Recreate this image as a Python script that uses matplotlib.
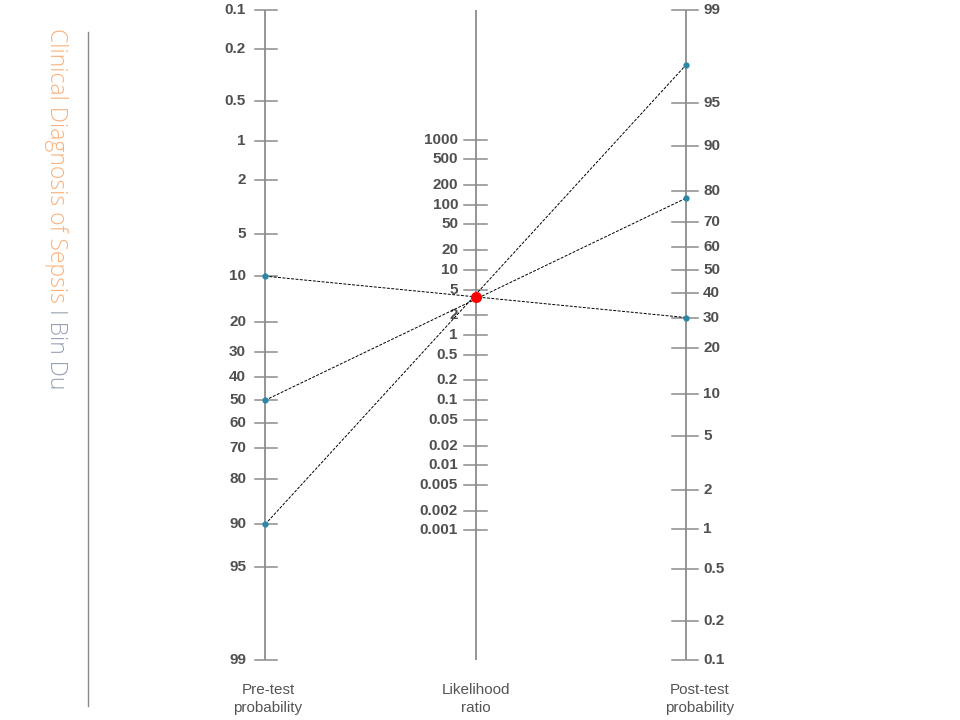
import numpy as np
import matplotlib
matplotlib.use("Agg")
import matplotlib.pyplot as plt

# ---------------- data ----------------
pretest_ticks = [0.1, 0.2, 0.5, 1, 2, 5, 10, 20, 30, 40, 50, 60, 70, 80, 90, 95, 99]
lr_ticks = [1000, 500, 200, 100, 50, 20, 10, 5, 2, 1, 0.5, 0.2, 0.1, 0.05,
            0.02, 0.01, 0.005, 0.002, 0.001]
posttest_ticks = [99, 95, 90, 80, 70, 60, 50, 40, 30, 20, 10, 5, 2, 1, 0.5, 0.2, 0.1]
pretest_points = [10, 50, 90]        # %
posttest_points = [30, 78, 97.4]     # %
likelihood_ratio = 3.8

axis_labels = ["Pre-test\nprobability", "Likelihood\nratio", "Post-test\nprobability"]
side_title = "Clinical Diagnosis of Sepsis"
side_author = " I Bin Du"

# ---------------- nomogram scales ----------------
def logit(pct):
    p = np.asarray(pct, dtype=float) / 100.0
    return np.log(p / (1 - p))

PMIN, PMAX = min(pretest_ticks), max(pretest_ticks)
C = -(logit(PMIN) + logit(PMAX))

def pre_y(p):
    return -logit(p)

def post_y(q):
    return logit(q) + C

def lr_y(lr):
    return np.log(np.asarray(lr, dtype=float)) / 2 + C / 2

W, H = 960, 720
fig = plt.figure(figsize=(W / 100, H / 100), dpi=100)
fig.patch.set_facecolor("white")

# layout axes in pixel coordinates
lay = fig.add_axes([0, 0, 1, 1])
lay.set_xlim(0, W)
lay.set_ylim(H, 0)
lay.axis("off")

# nomogram axes: x in pixels, y in logit units
ax = fig.add_axes([0, 0, 1, 1])
ax.axis("off")
ytop, ybot = float(pre_y(PMIN)), float(pre_y(PMAX))
s = (ytop - ybot) / 650.0
ax.set_ylim(ybot - 60 * s, ytop + 10 * s)
ax.set_xlim(0, W)
ax.patch.set_alpha(0)

X_PRE, X_LR, X_POST = 265, 476, 686
AX_COL = "#8c8c8c"
TXT_COL = "#505050"
FONT = "Liberation Sans"
FS = 11

# axis lines
for x in (X_PRE, X_LR, X_POST):
    ax.plot([x, x], [ybot, ytop], color=AX_COL, lw=1.3, solid_capstyle="butt", zorder=1)

# pre-test ticks
for v in pretest_ticks:
    y = pre_y(v)
    ax.plot([X_PRE - 10, X_PRE + 12], [y, y], color=AX_COL, lw=1.1, zorder=1)
    ax.text(X_PRE - 19, y, f"{v:g}", ha="right", va="center", fontsize=FS,
            color=TXT_COL, family=FONT, fontweight="bold")

# likelihood ratio ticks
for v in lr_ticks:
    y = lr_y(v)
    ax.plot([X_LR - 12, X_LR + 11], [y, y], color=AX_COL, lw=1.1, zorder=1)
    ax.text(X_LR - 18, y, f"{v:g}", ha="right", va="center", fontsize=FS,
            color=TXT_COL, family=FONT, fontweight="bold")

# post-test ticks
for v in posttest_ticks:
    y = post_y(v)
    ax.plot([X_POST - 14, X_POST + 12], [y, y], color=AX_COL, lw=1.1, zorder=1)
    ax.text(X_POST + 17, y, f"{v:g}", ha="left", va="center", fontsize=FS,
            color=TXT_COL, family=FONT, fontweight="bold")

# connecting lines
for p, q in zip(pretest_points, posttest_points):
    ax.plot([X_PRE, X_POST], [pre_y(p), post_y(q)], color="black", lw=0.7,
            linestyle=(0, (3, 1.5)), zorder=3)
    ax.plot([X_PRE], [pre_y(p)], "o", color="#2a87a6", ms=3.5, zorder=4)
    ax.plot([X_POST], [post_y(q)], "o", color="#2a87a6", ms=3.5, zorder=4)

ax.plot([X_LR], [lr_y(likelihood_ratio)], "o", color="#ff0000", ms=8, zorder=5,
        markeredgewidth=0)

# bottom labels
for x, lab in zip((268, X_LR, 700), axis_labels):
    lay.text(x, 699, lab, ha="center", va="center", fontsize=FS, color="#555555",
             family=FONT, linespacing=1.3)

# side decoration
lay.plot([88, 88], [32, 706], color="#8a8a8a", lw=1.0)
t1 = lay.text(56, 28, side_title, rotation=-90, ha="center", va="top",
              fontsize=16.5, color="#f8b27c", family="Open Sans", fontweight="light")
fig.canvas.draw()
bb = t1.get_window_extent(renderer=fig.canvas.get_renderer())
y_end = H - bb.y0  # pixel from top
lay.text(56, y_end, side_author, rotation=-90, ha="center", va="top",
         fontsize=16.5, color="#9aa3b5", family="Open Sans", fontweight="light")

fig.savefig("out.png", dpi=100, facecolor="white")
